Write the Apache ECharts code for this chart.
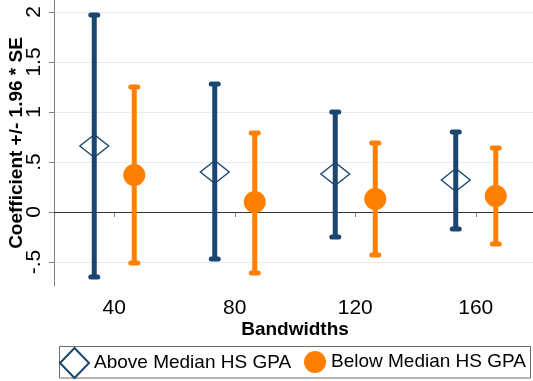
<!DOCTYPE html>
<html>
<head>
<meta charset="utf-8">
<script src="https://cdn.jsdelivr.net/npm/echarts@6/dist/echarts.min.js"></script>
<style>
  html, body { margin: 0; padding: 0; background: #fff; }
  #chart { width: 533px; height: 381px; }
</style>
</head>
<body>
<div id="chart"></div>
<script>
// Bandwidth groups on the x axis
const bandwidths = [40, 80, 120, 160];

// Above-median HS GPA: point estimate and 95% interval (coef +/- 1.96*SE)
const aboveCoef = [0.66, 0.40, 0.38, 0.32];
const aboveLow  = [-0.65, -0.47, -0.25, -0.17];
const aboveHigh = [1.97, 1.28, 1.00, 0.80];

// Below-median HS GPA
const belowCoef = [0.37, 0.10, 0.13, 0.16];
const belowLow  = [-0.51, -0.61, -0.43, -0.32];
const belowHigh = [1.25, 0.79, 0.69, 0.64];

// Tick positions and their printed labels
const yTicks = [-0.5, 0, 0.5, 1, 1.5, 2];
const yTickLabels = ['-.5', '0', '.5', '1', '1.5', '2'];
const xTicks = [40, 80, 120, 160];

const seriesNames = ['Above Median HS GPA', 'Below Median HS GPA'];

const NAVY = '#1a476f';
const ORANGE = '#ff7f00';
const FONT = '"Liberation Sans", Arial, Helvetica, sans-serif';
const SHIFT = 20; // horizontal pixel shift of each group within a bandwidth

function ciData(low, high) {
  return bandwidths.map((b, i) => [b, low[i], high[i]]);
}
function pointData(coef) {
  return bandwidths.map((b, i) => [b, coef[i]]);
}

function errorBar(color, dx) {
  return function (params, api) {
    const lo = api.coord([api.value(0), api.value(1)]);
    const hi = api.coord([api.value(0), api.value(2)]);
    const x = lo[0] + dx;
    const capHalf = 3.5;
    return {
      type: 'group',
      children: [
        { type: 'line', shape: { x1: x, y1: lo[1], x2: x, y2: hi[1] },
          style: { stroke: color, lineWidth: 5, lineCap: 'butt' } },
        { type: 'line', shape: { x1: x - capHalf, y1: lo[1], x2: x + capHalf, y2: lo[1] },
          style: { stroke: color, lineWidth: 5, lineCap: 'round' } },
        { type: 'line', shape: { x1: x - capHalf, y1: hi[1], x2: x + capHalf, y2: hi[1] },
          style: { stroke: color, lineWidth: 5, lineCap: 'round' } }
      ]
    };
  };
}

const chart = echarts.init(document.getElementById('chart'), null, { renderer: 'canvas' });

chart.setOption({
  animation: false,
  backgroundColor: '#ffffff',
  textStyle: { fontFamily: FONT },
  grid: { left: 54, top: 0, width: 482, height: 286, containLabel: false, outerBoundsMode: 'none' },
  xAxis: {
    type: 'value',
    min: 20,
    max: 180,
    name: 'Bandwidths',
    nameLocation: 'middle',
    nameGap: 34,
    nameMoveOverlap: false,
    nameTextStyle: { fontFamily: FONT, fontSize: 19, fontWeight: 'bold', color: '#000' },
    axisLine: { show: true, lineStyle: { color: '#7f7f7f', width: 1 } },
    axisTick: { show: true, length: 5, customValues: xTicks, lineStyle: { color: '#7f7f7f' } },
    axisLabel: { customValues: xTicks, margin: 12, fontSize: 21, color: '#000', fontFamily: FONT },
    splitLine: { show: false }
  },
  yAxis: {
    type: 'value',
    min: -0.74,
    max: 2.12,
    name: 'Coefficient +/- 1.96 * SE',
    nameLocation: 'middle',
    nameGap: 28,
    nameMoveOverlap: false,
    nameTextStyle: { fontFamily: FONT, fontSize: 19, fontWeight: 'bold', color: '#000' },
    axisLine: { show: true, lineStyle: { color: '#7f7f7f', width: 1 } },
    axisTick: { show: true, length: 5, customValues: yTicks, lineStyle: { color: '#7f7f7f' } },
    axisLabel: {
      customValues: yTicks,
      rotate: 90,
      margin: 9,
      fontSize: 21,
      color: '#000',
      fontFamily: FONT,
      formatter: function (v) {
        const i = yTicks.findIndex(t => Math.abs(t - v) < 1e-9);
        return i >= 0 ? yTickLabels[i] : '';
      }
    },
    splitLine: { show: true, lineStyle: { color: '#ebebeb', width: 1 } }
  },
  legend: [
    {
      data: [seriesNames[0]],
      left: 59, top: 347,
      padding: 0,
      itemWidth: 29, itemHeight: 30,
      textStyle: { fontFamily: FONT, fontSize: 19, color: '#000' },
      selectedMode: false
    },
    {
      data: [seriesNames[1]],
      left: 304, top: 351,
      padding: 0,
      itemWidth: 22, itemHeight: 22,
      textStyle: { fontFamily: FONT, fontSize: 19, color: '#000' },
      selectedMode: false
    }
  ],
  graphic: [
    {
      type: 'rect',
      shape: { x: 59.5, y: 346.5, width: 471, height: 31.5 },
      style: { fill: 'none', stroke: '#6b6b6b', lineWidth: 1 },
      silent: true,
      z: 0
    }
  ],
  series: [
    {
      type: 'custom',
      name: 'aboveCI',
      renderItem: errorBar(NAVY, -SHIFT),
      data: ciData(aboveLow, aboveHigh),
      encode: { x: 0, y: [1, 2] },
      silent: true,
      z: 2,
      markLine: {
        silent: true,
        symbol: ['none', 'none'],
        label: { show: false },
        lineStyle: { color: '#333333', width: 1, type: 'solid' },
        data: [{ yAxis: 0 }],
        z: 1
      }
    },
    {
      type: 'custom',
      name: 'belowCI',
      renderItem: errorBar(ORANGE, SHIFT),
      data: ciData(belowLow, belowHigh),
      encode: { x: 0, y: [1, 2] },
      silent: true,
      z: 2
    },
    {
      type: 'scatter',
      name: seriesNames[0],
      data: pointData(aboveCoef),
      symbol: 'diamond',
      symbolSize: [29, 23],
      symbolOffset: [-SHIFT, 0],
      itemStyle: { color: 'rgba(255,255,255,0)', borderColor: NAVY, borderWidth: 1.3, opacity: 1 },
      z: 3
    },
    {
      type: 'scatter',
      name: seriesNames[1],
      data: pointData(belowCoef),
      symbol: 'circle',
      symbolSize: 22,
      symbolOffset: [SHIFT, 0],
      itemStyle: { color: ORANGE, opacity: 1 },
      z: 3
    }
  ]
});
</script>
</body>
</html>
